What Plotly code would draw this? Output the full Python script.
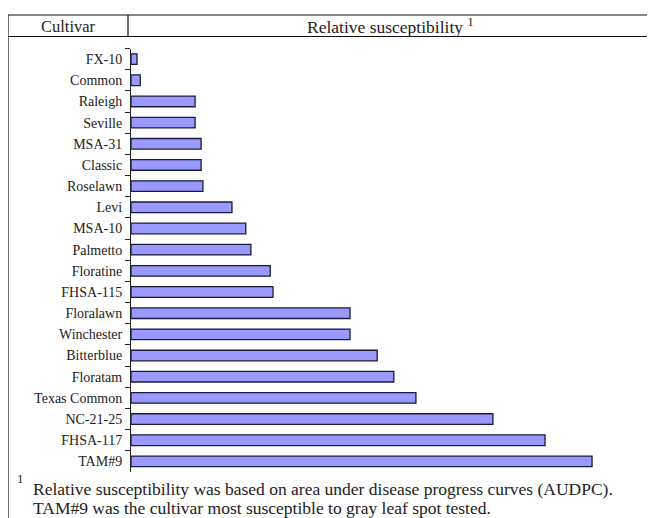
import plotly.graph_objects as go

W, H = 655, 518
OFF = 8  # page body margin

cultivars = ["FX-10", "Common", "Raleigh", "Seville", "MSA-31", "Classic", "Roselawn",
             "Levi", "MSA-10", "Palmetto", "Floratine", "FHSA-115", "Floralawn",
             "Winchester", "Bitterblue", "Floratam", "Texas Common", "NC-21-25",
             "FHSA-117", "TAM#9"]
susceptibility = [1.3, 2.0, 13.9, 13.9, 15.2, 15.2, 15.6, 21.9, 24.9, 26.0, 30.2, 30.8,
                  47.5, 47.5, 53.4, 57.0, 61.8, 78.5, 89.8, 100.0]

header_left = "Cultivar"
header_right = "Relative susceptibility <sup>1</sup>"
foot_mark = "1"
foot1 = "Relative susceptibility was based on area under disease progress curves (AUDPC)."
foot2 = "TAM#9 was the cultivar most susceptible to gray leaf spot tested."

def px(x):
    return (x - OFF) / W

def py(y):
    return 1 - (y - OFF) / H

fig = go.Figure(go.Bar(
    y=cultivars, x=susceptibility, orientation="h",
    marker=dict(color="#9999FF", line=dict(color="#1a1a3a", width=1.3)),
))

fig.update_layout(
    width=W, height=H, margin=dict(l=0, r=0, t=0, b=0),
    paper_bgcolor="white", plot_bgcolor="white",
    showlegend=False, bargap=0.5,
    font=dict(family="Liberation Serif", color="#222"),
    xaxis=dict(domain=[px(131), px(640)], range=[0, 110.4], visible=False),
    yaxis=dict(domain=[py(472), py(48.5)], type="category",
               categoryorder="array", categoryarray=cultivars, autorange="reversed",
               showline=True, linecolor="#222", linewidth=1,
               ticks="outside", ticklen=5, tickcolor="#222", tickson="boundaries",
               ticklabelstandoff=5,
               tickfont=dict(family="Liberation Serif", size=14, color="#222"),
               showgrid=False, zeroline=False),
)

line = dict(color="#111", width=1.2)
shapes = [
    dict(type="line", xref="paper", yref="paper", x0=px(8), x1=1, y0=py(15), y1=py(15), line=line),
    dict(type="line", xref="paper", yref="paper", x0=px(8), x1=1, y0=py(36.5), y1=py(36.5), line=line),
    dict(type="line", xref="paper", yref="paper", x0=px(8), x1=px(8), y0=py(15), y1=0, line=line),
    dict(type="line", xref="paper", yref="paper", x0=px(128), x1=px(128), y0=py(15), y1=py(36.5), line=line),
]
fig.update_layout(shapes=shapes)

ann = [
    dict(text=header_left, x=px(68), y=py(26), xanchor="center", yanchor="middle",
         font=dict(size=16.5)),
    dict(text=header_right, x=px(390), y=py(26), xanchor="center", yanchor="middle",
         font=dict(size=17.5)),
    dict(text=foot_mark, x=px(15), y=py(478), xanchor="left", yanchor="middle",
         font=dict(size=13)),
    dict(text=foot1, x=px(31), y=py(489), xanchor="left", yanchor="middle",
         font=dict(size=17.5)),
    dict(text=foot2, x=px(31), y=py(508), xanchor="left", yanchor="middle",
         font=dict(size=17.5)),
]
for a in ann:
    a.update(xref="paper", yref="paper", showarrow=False)
fig.update_layout(annotations=ann)

fig.write_html("out.html")
